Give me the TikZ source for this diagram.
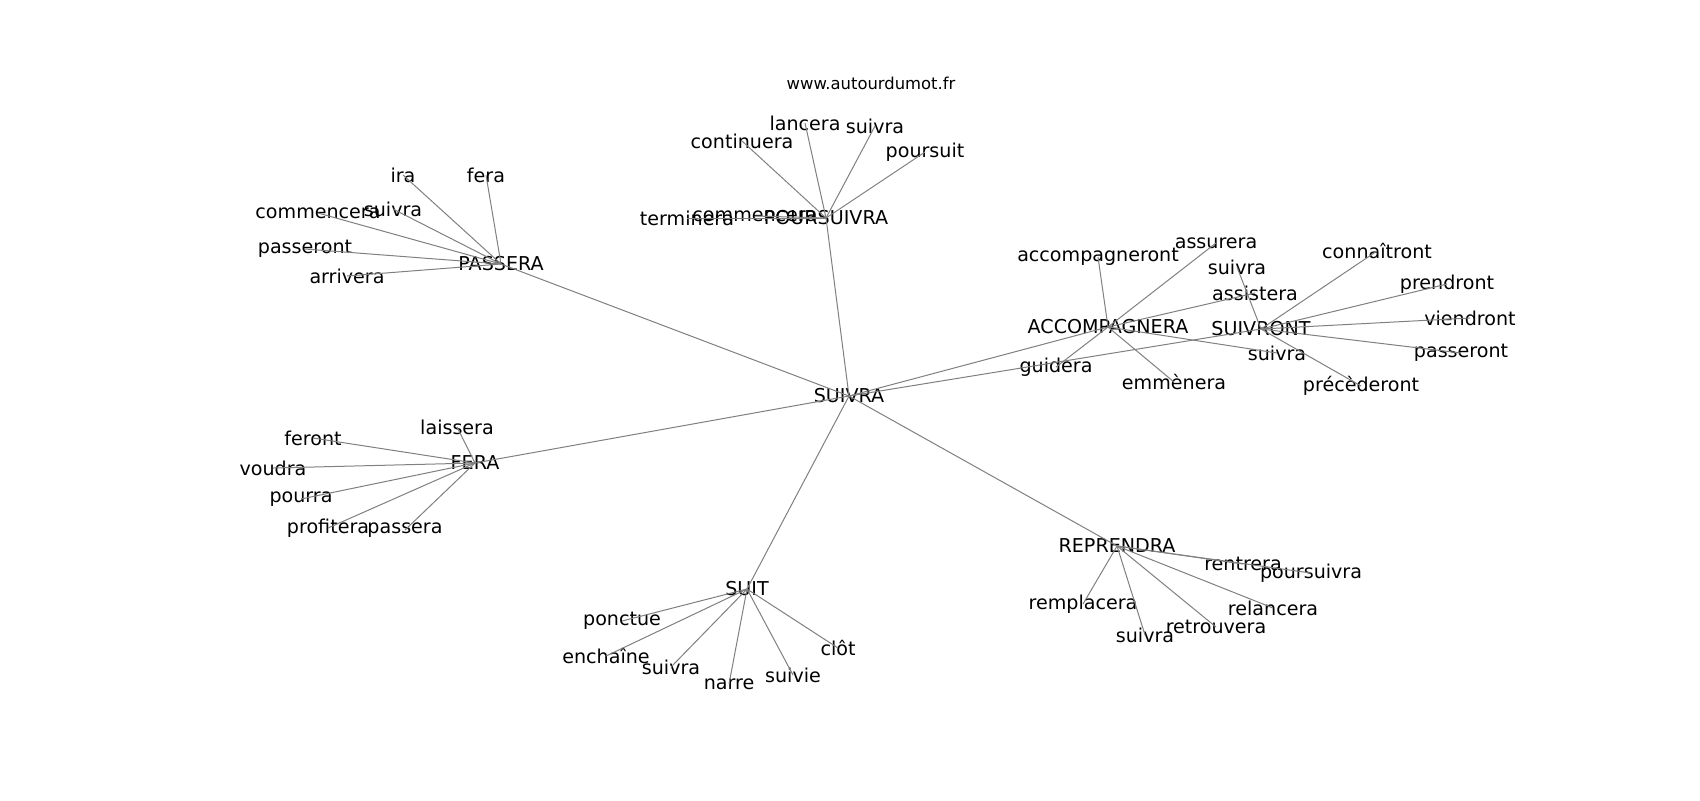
\documentclass[tikz,border=0pt]{standalone}
\usepackage{fontspec}
\setmainfont{DejaVu Sans}
\usetikzlibrary{backgrounds}

\begin{document}
\begin{tikzpicture}[
            x=0.5pt, y=-0.5pt,
            background rectangle/.style={fill=white},
            show background rectangle,
            inner frame sep=0pt,
            semithick
        ]

        \tikzset{
            word/.style={
                draw=none,
                shape=rectangle,
                inner sep=0pt,
                font=\fontsize{9.55}{11}\selectfont
            },
            link/.style={
                draw=gray,
                line width=0.5pt
            }
        }

        \path[use as bounding box] (0,0) rectangle (1700,800);

        \node[word, font=\fontsize{8.2}{10}\selectfont] (site) at (871,83) {www.autourdumot.fr};

        % hubs
        \node[word] (sui) at (849,396) {SUIVRA};
        \node[word] (pou) at (826,218) {POURSUIVRA};
        \node[word] (pas) at (501,264) {PASSERA};
        \node[word] (acc) at (1108,327) {ACCOMPAGNERA};
        \node[word] (svt) at (1261,329) {SUIVRONT};
        \node[word] (fer) at (475,463) {FERA};
        \node[word] (suit) at (747,589) {SUIT};
        \node[word] (rep) at (1117,546) {REPRENDRA};

        % around POURSUIVRA
        \node[word] (term) at (687,218) {terminera};
        \node[word] (comP) at (755,216) {commencera};
        \node[word] (cont) at (742,141) {continuera};
        \node[word] (lanc) at (805,123) {lancera};
        \node[word] (suiP) at (875,126) {suivra};
        \node[word] (prst) at (925,152) {poursuit};

        % around PASSERA
        \node[word] (ira) at (403,175) {ira};
        \node[word] (fera) at (486,175) {fera};
        \node[word] (comA) at (318,213) {commencera};
        \node[word] (suiA) at (393,209) {suivra};
        \node[word] (psrA) at (305,249) {passeront};
        \node[word] (arr) at (347,276) {arrivera};

        % around ACCOMPAGNERA
        \node[word] (accnt) at (1098,257) {accompagneront};
        \node[word] (ass) at (1216,243) {assurera};
        \node[word] (asst) at (1255,293) {assistera};
        \node[word] (gui) at (1056,367) {guidera};
        \node[word] (emm) at (1174,382) {emmènera};
        \node[word] (suiC) at (1277,353) {suivra};

        % around SUIVRONT
        \node[word] (suiV) at (1237,267) {suivra};
        \node[word] (con) at (1377,251) {connaîtront};
        \node[word] (pre) at (1447,284) {prendront};
        \node[word] (vie) at (1470,318) {viendront};
        \node[word] (psrV) at (1461,353) {passeront};
        \node[word] (prec) at (1361,386) {précèderont};

        % around FERA
        \node[word] (lai) at (457,427) {laissera};
        \node[word] (frt) at (313,438) {feront};
        \node[word] (vou) at (273,468) {voudra};
        \node[word] (pour) at (301,499) {pourra};
        \node[word] (pro) at (328,528) {profitera};
        \node[word] (psa) at (405,530) {passera};

        % around SUIT
        \node[word] (pon) at (622,621) {ponctue};
        \node[word] (ench) at (606,656) {enchaîne};
        \node[word] (suiT) at (671,667) {suivra};
        \node[word] (nar) at (729,684) {narre};
        \node[word] (suie) at (793,675) {suivie};
        \node[word] (clo) at (838,648) {clôt};

        % around REPRENDRA
        \node[word] (ren) at (1243,564) {rentrera};
        \node[word] (poua) at (1311,573) {poursuivra};
        \node[word] (rem) at (1083,604) {remplacera};
        \node[word] (rel) at (1273,608) {relancera};
        \node[word] (ret) at (1216,627) {retrouvera};
        \node[word] (suiR) at (1145,635) {suivra};

        \path[link] (sui.center) edge (pou.center);
        \path[link] (sui.center) edge (pas.center);
        \path[link] (sui.center) edge (acc.center);
        \path[link] (sui.center) edge (svt.center);
        \path[link] (sui.center) edge (fer.center);
        \path[link] (sui.center) edge (suit.center);
        \path[link] (sui.center) edge (rep.center);

        \path[link] (pou.center) edge (term.center);
        \path[link] (pou.center) edge (comP.center);
        \path[link] (pou.center) edge (cont.center);
        \path[link] (pou.center) edge (lanc.center);
        \path[link] (pou.center) edge (suiP.center);
        \path[link] (pou.center) edge (prst.center);

        \path[link] (pas.center) edge (ira.center);
        \path[link] (pas.center) edge (fera.center);
        \path[link] (pas.center) edge (comA.center);
        \path[link] (pas.center) edge (suiA.center);
        \path[link] (pas.center) edge (psrA.center);
        \path[link] (pas.center) edge (arr.center);

        \path[link] (acc.center) edge (accnt.center);
        \path[link] (acc.center) edge (ass.center);
        \path[link] (acc.center) edge (asst.center);
        \path[link] (acc.center) edge (gui.center);
        \path[link] (acc.center) edge (emm.center);
        \path[link] (acc.center) edge (suiC.center);

        \path[link] (svt.center) edge (suiV.center);
        \path[link] (svt.center) edge (con.center);
        \path[link] (svt.center) edge (pre.center);
        \path[link] (svt.center) edge (vie.center);
        \path[link] (svt.center) edge (psrV.center);
        \path[link] (svt.center) edge (prec.center);

        \path[link] (fer.center) edge (lai.center);
        \path[link] (fer.center) edge (frt.center);
        \path[link] (fer.center) edge (vou.center);
        \path[link] (fer.center) edge (pour.center);
        \path[link] (fer.center) edge (pro.center);
        \path[link] (fer.center) edge (psa.center);

        \path[link] (suit.center) edge (pon.center);
        \path[link] (suit.center) edge (ench.center);
        \path[link] (suit.center) edge (suiT.center);
        \path[link] (suit.center) edge (nar.center);
        \path[link] (suit.center) edge (suie.center);
        \path[link] (suit.center) edge (clo.center);

        \path[link] (rep.center) edge (ren.center);
        \path[link] (rep.center) edge (poua.center);
        \path[link] (rep.center) edge (rem.center);
        \path[link] (rep.center) edge (rel.center);
        \path[link] (rep.center) edge (ret.center);
        \path[link] (rep.center) edge (suiR.center);

    \end{tikzpicture}
\end{document}
